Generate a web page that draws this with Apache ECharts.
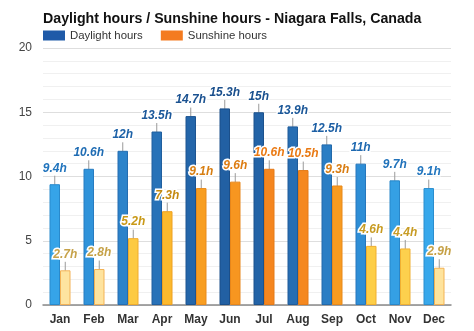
<!DOCTYPE html>
<html><head><meta charset="utf-8">
<script src="https://cdn.jsdelivr.net/npm/echarts@6/dist/echarts.min.js"></script>
<style>html,body{margin:0;padding:0;background:#fff}#c{width:474px;height:331px}</style>
</head><body><div id="c"></div>
<script>
var months = ['Jan','Feb','Mar','Apr','May','Jun','Jul','Aug','Sep','Oct','Nov','Dec'];
var daylight = [9.4,10.6,12,13.5,14.7,15.3,15,13.9,12.5,11,9.7,9.1];
var sunshine = [2.7,2.8,5.2,7.3,9.1,9.6,10.6,10.5,9.3,4.6,4.4,2.9];
var yTicks = [0,5,10,15,20];

function hex(c){return [parseInt(c.substr(1,2),16),parseInt(c.substr(3,2),16),parseInt(c.substr(5,2),16)];}
function mix(stops,v){
  if(v<=stops[0][0]) return stops[0][1];
  for(var i=1;i<stops.length;i++){
    if(v<=stops[i][0]){
      var t=(v-stops[i-1][0])/(stops[i][0]-stops[i-1][0]);
      var a=hex(stops[i-1][1]),b=hex(stops[i][1]);
      return 'rgb('+a.map(function(x,k){return Math.round(x+(b[k]-x)*t);}).join(',')+')';
    }
  }
  return stops[stops.length-1][1];
}
var dayFill=[[9,'#38a9ec'],[11,'#2e8ed6'],[13.5,'#2872b8'],[15.3,'#2260a3']];
var dayBorder=[[9,'#2a8fd0'],[11,'#2677bd'],[13.5,'#205f9e'],[15.3,'#1b4f8a']];
var dayLabel=[[9,'#2277c0'],[12,'#1d62a8'],[15.3,'#1a4f8c']];
var sunFill=[[2.7,'#fee4a0'],[3,'#fee29a'],[4.5,'#fdcf48'],[7.3,'#fbb92e'],[9,'#f8a021'],[10.6,'#f5861f']];
var sunBorder=[[2.7,'#f3b257'],[4.5,'#f0b030'],[7.3,'#eea020'],[10.6,'#e47a18']];
var sunLabel=[[2.7,'#c6a24a'],[5,'#c99a18'],[7.3,'#c48a10'],[9.3,'#d97d12'],[10.6,'#ea7a14']];

function mk(vals,fill,border,lab){
  return vals.map(function(v){
    return {value:v,
      itemStyle:{color:mix(fill,v),borderColor:mix(border,v),borderWidth:1},
      label:{color:mix(lab,v)}};
  });
}
var labelBase={show:true,position:'top',distance:2,formatter:'{c}h',
  fontFamily:'Liberation Sans, Arial, sans-serif',fontStyle:'italic',fontWeight:'bold',fontSize:12,
  textBorderColor:'#fff',textBorderWidth:3};
var labelLine={show:true,smooth:false,minTurnAngle:0,lineStyle:{color:'#9a9a9a',width:1}};
var labelLayout={dy:-8};

var chart=echarts.init(document.getElementById('c'),null,{renderer:'canvas'});
chart.setOption({
  animation:false,
  textStyle:{fontFamily:'Liberation Sans, Arial, sans-serif'},
  title:{text:'Daylight hours / Sunshine hours - Niagara Falls, Canada',left:38,top:7,
    textStyle:{fontSize:14.2,fontWeight:'bold',color:'#111',fontFamily:'Liberation Sans, Arial, sans-serif'}},
  legend:{left:38,top:25,itemWidth:22,itemHeight:10,itemGap:18,icon:'rect',
    textStyle:{fontSize:11.4,color:'#333'},
    data:[{name:'Daylight hours',itemStyle:{color:'#1f5aa8',borderWidth:0}},{name:'Sunshine hours',itemStyle:{color:'#f47b20',borderWidth:0}}]},
  grid:{left:43,right:23,top:48,bottom:26},
  xAxis:{type:'category',data:months,
    axisLine:{lineStyle:{color:'#8a8a8a',width:1.5}},axisTick:{show:false},
    axisLabel:{fontWeight:'bold',fontSize:12,color:'#333',margin:9}},
  yAxis:{type:'value',min:yTicks[0],max:yTicks[yTicks.length-1],interval:5,
    axisLabel:{fontSize:12,color:'#444',margin:11},
    splitLine:{lineStyle:{color:'#dedede'}},
    minorTick:{show:false,splitNumber:5},
    minorSplitLine:{show:true,lineStyle:{color:'#f0f0f0'}}},
  series:[
    {name:'Daylight hours',type:'bar',data:mk(daylight,dayFill,dayBorder,dayLabel),
      barWidth:10.5,barGap:'0%',label:labelBase,labelLine:labelLine,labelLayout:labelLayout},
    {name:'Sunshine hours',type:'bar',data:mk(sunshine,sunFill,sunBorder,sunLabel),
      barWidth:10.5,barGap:'0%',label:labelBase,labelLine:labelLine,labelLayout:labelLayout}
  ]
});
</script></body></html>
